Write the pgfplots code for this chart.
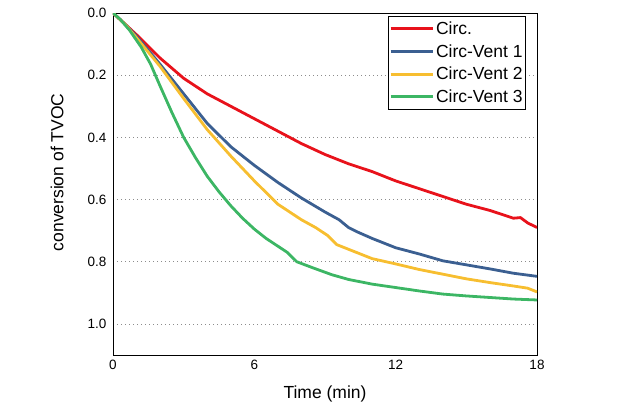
\documentclass[border=0pt]{standalone}
\usepackage{fontspec}
\setmainfont{Liberation Sans}
\usepackage{pgfplots}
\pgfplotsset{compat=1.18}
\definecolor{cred}{RGB}{232,18,27}
\definecolor{cblue}{RGB}{59,95,145}
\definecolor{cyellow}{RGB}{247,190,48}
\definecolor{cgreen}{RGB}{60,182,100}
\pgfplotsset{
  mylegimg/.style={legend image code/.code={\draw[##1,line width=3pt] (0pt,0pt) -- (42pt,0pt);}}
}
\begin{document}
\begin{tikzpicture}
\begin{axis}[
  scale only axis,
  width=424pt, height=342pt,
  xmin=0, xmax=18, ymin=0, ymax=1.1,
  y dir=reverse,
  xtick={0,6,12,18},
  ytick={0,0.2,0.4,0.6,0.8,1.0},
  yticklabel style={xshift=-3pt,/pgf/number format/.cd,fixed,fixed zerofill,precision=1},
  /pgf/number format/assume math mode=true,
  major tick length=0pt,
  ymajorgrids,
  grid style={dash pattern=on 1pt off 3pt, gray!90, line width=0.6pt},
  axis line style={line width=0.9pt},
  tick label style={font=\fontsize{13.5}{15}\selectfont},
  xticklabel style={yshift=-2pt},
  label style={font=\fontsize{17.5}{20}\selectfont},
  xlabel={Time (min)},
  ylabel={conversion of TVOC},
  xlabel style={at={(axis description cs:0.5,-0.114)},anchor=center},
  ylabel style={at={(axis description cs:-0.132,0.534)},anchor=center,rotate=0},
  legend style={at={(rel axis cs:0.974,0.99)},anchor=north east,
    font=\fontsize{17.5}{21}\selectfont, draw=black, line width=0.8pt,
    inner xsep=1pt, inner ysep=3pt, row sep=4.5pt, cells={anchor=west}},
  mylegimg,
  every axis plot/.append style={line width=2.8pt, line join=round},
]
\addplot[cred] coordinates {(0,0)(0.5,0.035)(1,0.07)(2,0.145)(3,0.21)(4,0.26)(5,0.30)(6,0.34)(7,0.38)(8,0.42)(9,0.455)(10,0.485)(11,0.51)(12,0.54)(13,0.565)(14,0.59)(15,0.615)(16,0.635)(17,0.66)(17.3,0.658)(17.6,0.675)(18,0.69)};
\addlegendentry{Circ.}
\addplot[cblue] coordinates {(0,0)(0.5,0.035)(1,0.075)(2,0.165)(3,0.26)(4,0.355)(5,0.43)(6,0.49)(7,0.545)(8,0.595)(9,0.64)(9.6,0.665)(10,0.69)(10.4,0.705)(11,0.725)(12,0.755)(13,0.775)(14,0.797)(15,0.81)(16,0.823)(17,0.837)(18,0.847)};
\addlegendentry{Circ-Vent 1}
\addplot[cyellow] coordinates {(0,0)(0.5,0.035)(1,0.08)(2,0.172)(3,0.275)(4,0.375)(5,0.46)(6,0.54)(7,0.615)(8,0.665)(8.6,0.69)(9.1,0.715)(9.5,0.745)(10,0.76)(11,0.79)(12,0.807)(13,0.825)(14,0.84)(15,0.855)(16,0.867)(17,0.878)(17.6,0.885)(18,0.897)};
\addlegendentry{Circ-Vent 2}
\addplot[cgreen] coordinates {(0,0)(0.3,0.02)(0.7,0.055)(1.2,0.11)(1.6,0.165)(2,0.235)(2.5,0.32)(3,0.40)(3.5,0.465)(4,0.525)(4.5,0.575)(5,0.62)(5.5,0.66)(6,0.695)(6.5,0.725)(7,0.75)(7.4,0.77)(7.8,0.80)(8.5,0.82)(9.3,0.842)(10,0.857)(11,0.872)(12,0.883)(13,0.894)(14,0.904)(15,0.91)(16,0.915)(17,0.92)(18,0.923)};
\addlegendentry{Circ-Vent 3}
\end{axis}
\path (current axis.south west) ++(-113pt,-50pt) rectangle ++(628pt,405pt);
\end{tikzpicture}
\end{document}
